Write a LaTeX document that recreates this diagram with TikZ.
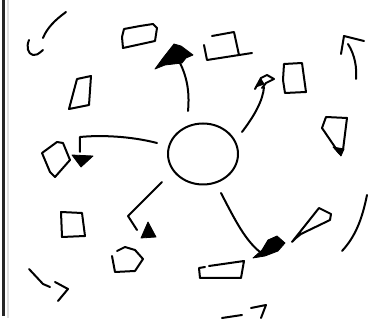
\documentclass[tikz,border=0pt]{standalone}
\usetikzlibrary{shapes.geometric}
\tikzset{
  sk/.style={line width=2pt, line cap=round, line join=round, draw=black},
  headfill/.style={fill=black, draw=black, line width=0.8pt, line join=round},
  hubshape/.style={sk, ellipse, minimum width=70pt, minimum height=61pt, inner sep=0pt},
}
\begin{document}
\begin{tikzpicture}[x=1pt,y=-1pt]
\useasboundingbox (0,0) rectangle (368,323);
% left border
\draw[line width=3.2pt, black!85] (3.8,0) -- (3.8,316);
\draw[line width=1.2pt, black!12] (8,0) -- (8,318);

% hub circle
\node[hubshape] (hub) at (203,154) {};

% connector end points
\coordinate (upS) at (188,111);
\coordinate (upE) at (180,63);
\coordinate (urS) at (242,132);
\coordinate (urE) at (264,87);
\coordinate (lfS) at (157,143);
\coordinate (lfE) at (80,152);
\coordinate (dlS) at (162,182);
\coordinate (dlE) at (137,230);
\coordinate (drS) at (221,193);
\coordinate (drE) at (260,252);

% top-left strokes
\draw[sk] (66,12) .. controls (55,20) and (47,28) .. (43,38);
\draw[sk] (29,40) .. controls (26,47) and (28,54) .. (33,55) .. controls (37,55) .. (43,50);

% top quad
\draw[sk] (124,29) -- (140,26) -- (153,24) -- (157,28) -- (155,41) -- (123,48) -- (122,37) -- cycle;

% up arrow
\draw[sk] (upS) .. controls (190,90) and (186,75) .. (upE);
\fill[headfill] (174,44) -- (181,46) -- (193,55) -- (186,58) -- (182,63) -- (165,65) -- (155,69) -- (163,58) -- cycle;

% open box top
\draw[sk] (212,36) -- (234,32) -- (239,55);
\draw[sk] (204,45) -- (207,60) -- (252,53);

% upper-right arrow
\draw[sk] (urS) .. controls (255,115) and (263,100) .. (urE);
\draw[sk] (255,89) -- (261,78) -- (267,75) -- (274,79) -- (266,83) -- (262,88);
\fill[headfill] (256,87) -- (261,79) -- (264,84) -- cycle;

% box right of it
\draw[sk] (284,64) -- (302,63) -- (306,92) -- (285,93) -- (283,80) -- cycle;

% top-right arrow
\draw[sk] (341,54) -- (344,36) -- (364,41);
\draw[sk] (348,44) .. controls (355,55) and (357,68) .. (356,79);

% right quad
\draw[sk] (322,128) -- (326,117) -- (347,118) -- (343,150);
\draw[sk] (322,128) -- (339,153);
\fill[headfill] (333,147) -- (344,149) -- (341,156) -- cycle;

% left arrow
\draw[sk] (lfS) .. controls (130,136) and (100,135) .. (80,137) -- (lfE);
\fill[headfill] (72,155) -- (93,156) -- (81,167) -- cycle;

% D shape
\draw[sk] (42,153) -- (57,142) -- (63,143) -- (70,160) -- (55,177) -- (50,172) -- cycle;

% parallelogram
\draw[sk] (77,79) -- (91,76) -- (89,105) -- (69,109) -- cycle;

% square
\draw[sk] (61,212) -- (82,213) -- (85,236) -- (62,237) -- cycle;

% down-left arrow
\draw[sk] (dlS) -- (128,216) -- (dlE);
\fill[headfill] (148,222) -- (156,237) -- (141,238) -- cycle;

% pentagon below
\draw[sk] (117,251) -- (125,247) -- (135,250) -- (143,259) -- (135,271) -- (115,272) -- (112,256);

% bottom-left strokes
\draw[sk] (29,269) -- (43,284) -- (50,287);
\draw[sk] (55,282) -- (68,289) -- (58,301);

% down-right arrow
\draw[sk] (drS) .. controls (235,220) and (245,240) .. (drE);
\fill[headfill] (253,258) -- (262,250) -- (268,240) -- (277,236) -- (285,243) -- (278,251) -- (265,256) -- cycle;

% thin quad
\draw[sk] (292,242) -- (319,208) -- (331,214) -- (330,220) -- (301,234) -- (296,238) -- cycle;

% right arc
\draw[sk] (367,195) .. controls (362,220) and (355,237) .. (342,251);

% bottom trapezoid
\draw[sk] (209,266) -- (244,261) -- (241,278) -- (200,278) -- (199,268) -- (205,267);

% bottom -7
\draw[sk] (222,318) -- (242,315);
\draw[sk] (251,308) -- (266,305) -- (261,318);
\end{tikzpicture}
\end{document}
